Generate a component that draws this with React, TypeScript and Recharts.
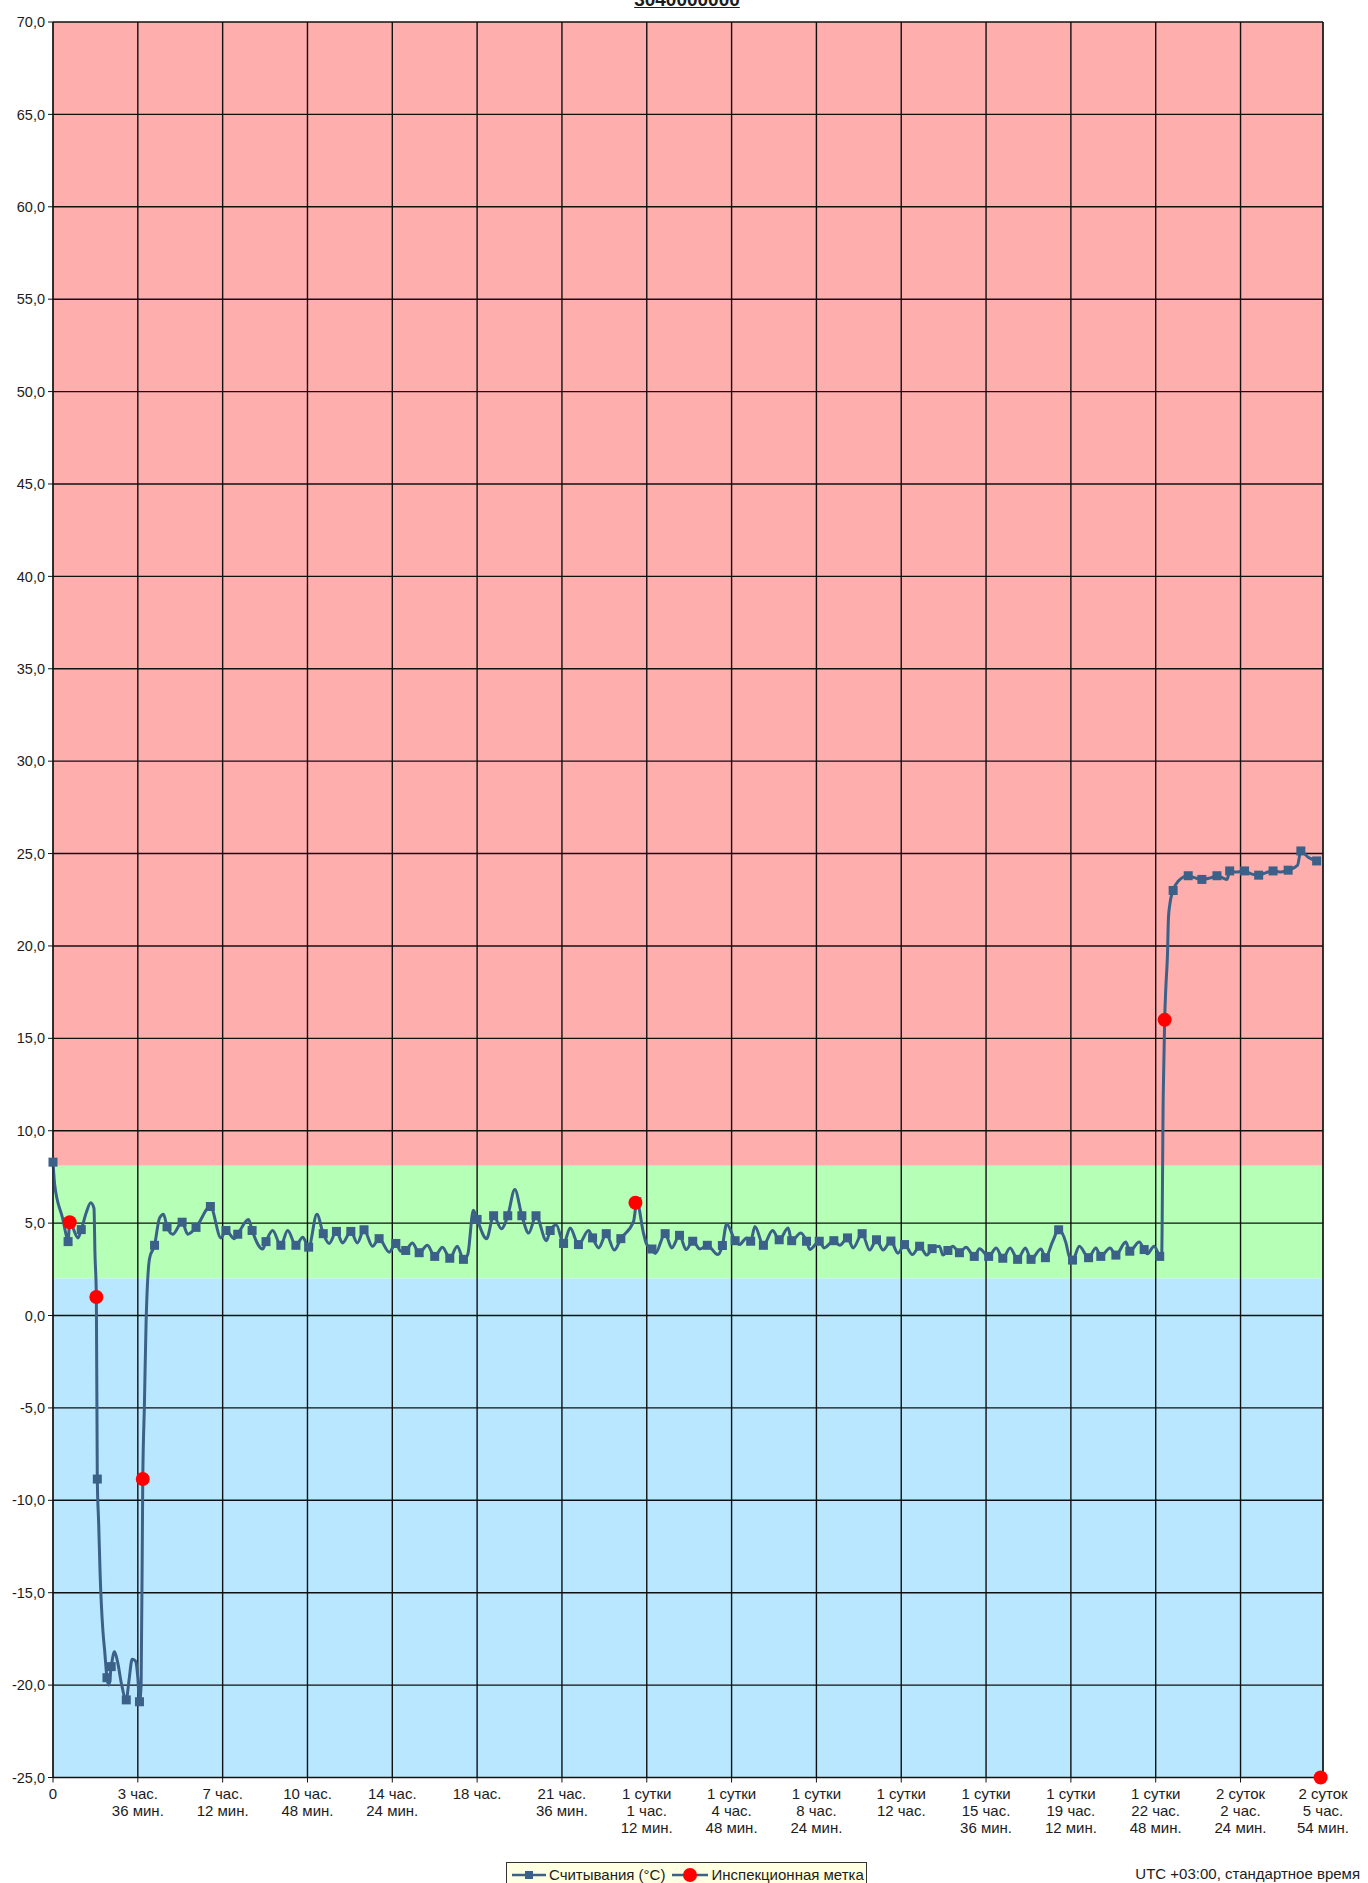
import React from 'react';
import { ComposedChart, Line, Scatter, XAxis, YAxis, CartesianGrid, ReferenceArea } from 'recharts';

// logger readings: time since start (hours), temperature (°C), 1 = drawn with a square marker
const readingHours = [
  0, 0.07, 0.42, 0.55, 0.64, 0.71, 1.06, 1.2, 1.42, 1.6, 1.74, 1.78, 1.84, 1.88, 1.94, 2.0, 2.12, 2.19,
  2.29, 2.37, 2.47, 2.61, 2.75, 2.9, 3.11, 3.22, 3.36, 3.5, 3.6, 3.67, 3.74, 3.81, 3.88, 3.95, 4.1, 4.31,
  4.52, 4.69, 4.84, 5.08, 5.48, 5.72, 6.07, 6.68, 7.13, 7.34, 7.7, 7.84, 8.3, 8.45, 8.9, 9.04, 9.32, 9.67,
  9.96, 10.31, 10.6, 10.85, 11.2, 11.47, 11.72, 12.03, 12.29, 12.64, 12.92, 13.2, 13.56, 13.84, 14.27,
  14.55, 14.76, 14.97, 15.25, 15.54, 15.89, 16.2, 16.53, 16.84, 17.16, 17.42, 17.6, 17.84, 18.0, 18.4,
  18.7, 19.03, 19.3, 19.6, 19.9, 20.19, 20.5, 20.94, 21.1, 21.36, 21.67, 21.95, 22.3, 22.73, 22.9, 23.16,
  23.48, 23.82, 24.1, 24.64, 24.78, 25.06, 25.2, 25.42, 25.56, 25.98, 26.26, 26.59, 26.87, 27.15, 27.46,
  27.77, 28.21, 28.41, 28.59, 28.95, 29.13, 29.44, 29.61, 29.79, 30.15, 30.54, 30.82, 31.2, 31.35, 31.74,
  31.98, 32.12, 32.52, 32.73, 33.14, 33.39, 33.72, 33.96, 34.34, 34.66, 34.95, 35.23, 35.56, 35.86, 36.14,
  36.47, 36.78, 37.09, 37.31, 37.62, 37.77, 37.98, 38.19, 38.47, 38.75, 39.1, 39.32, 39.71, 40.03, 40.31,
  40.62, 40.94, 41.27, 41.51, 41.93, 42.12, 42.43, 42.68, 42.99, 43.13, 43.27, 43.56, 43.95, 44.26, 44.47,
  44.86, 45.11, 45.53, 45.7, 46.1, 46.31, 46.45, 46.73, 46.97, 47.05, 47.12, 47.18, 47.23, 47.3, 47.34,
  47.4, 47.54, 47.75, 48.18, 48.44, 48.76, 49.08, 49.4, 49.83, 49.94, 50.21, 50.57, 50.85, 51.17, 51.49,
  51.78, 52.13, 52.42, 52.82, 52.96, 53.27, 53.63,
];
const readingTemps = [
  8.3, 7.1, 5.2, 4.4, 4.0, 5.05, 4.2, 4.65, 5.6, 6.1, 5.8, 3.4, 1.0, -8.85, -11.3, -14.0, -17.1, -18.1,
  -19.6, -20.0, -19.0, -18.2, -18.8, -19.9, -20.8, -19.8, -18.6, -18.7, -19.6, -20.9, -20.0, -8.85, -4.8, -0.4, 3.1, 3.8,
  5.27, 5.48, 4.8, 4.4, 5.05, 4.4, 4.77, 5.9, 4.2, 4.6, 4.16, 4.4, 5.2, 4.6, 3.6, 4.0, 4.6, 3.8,
  4.6, 3.8, 4.23, 3.7, 5.48, 4.43, 3.9, 4.55, 3.93, 4.55, 3.93, 4.64, 3.75, 4.16, 3.43,
  3.9, 3.48, 3.52, 3.93, 3.4, 3.8, 3.2, 3.7, 3.1, 3.75, 3.04, 3.3, 5.7, 5.2, 4.16,
  5.4, 4.7, 5.4, 6.82, 5.4, 4.46, 5.4, 4.05, 4.6, 4.9, 3.9, 4.73, 3.84, 4.6, 4.2, 3.66,
  4.43, 3.54, 4.16, 5.1, 6.16, 4.46, 3.84, 3.6, 3.36, 4.43, 3.66, 4.34, 3.57, 4.02, 3.6,
  3.8, 3.3, 3.79, 4.95, 4.05, 3.84, 4.2, 4.02, 4.82, 3.8, 4.6, 4.1, 4.73, 4.05, 4.46,
  4.02, 3.57, 4.02, 3.66, 4.05, 3.8, 4.2, 3.66, 4.43, 3.54, 4.1, 3.54, 4.03, 3.37, 3.84,
  3.3, 3.75, 3.27, 3.62, 3.75, 3.27, 3.52, 3.75, 3.4, 3.7, 3.2, 3.62, 3.2, 3.66, 3.1,
  3.66, 3.04, 3.66, 3.04, 3.6, 3.13, 4.02, 4.64, 3.93, 3.2, 3.0, 3.75, 3.13, 3.66, 3.2,
  3.66, 3.27, 3.98, 3.48, 3.98, 3.57, 3.34, 3.75, 3.2, 3.1, 12.0, 16.0, 17.75, 19.56, 21.5,
  22.26, 23.0, 23.5, 23.8, 23.7, 23.6, 23.67, 23.8, 23.6, 24.06, 24.0, 24.06, 23.9, 23.83, 23.97,
  24.06, 24.0, 24.1, 24.37, 25.14, 24.8, 24.6,
];
const readingMarked = [
  1, 0, 0, 0, 1, 0, 0, 1, 0, 0, 0, 0, 0, 1, 0, 0, 0, 0,
  1, 0, 1, 0, 0, 0, 1, 0, 0, 0, 0, 1, 0, 0, 0, 0, 0, 1,
  0, 0, 1, 0, 1, 0, 1, 1, 0, 1, 0, 1, 0, 1, 0, 1, 0, 1,
  0, 1, 0, 1, 0, 1, 0, 1, 0, 1, 0, 1, 0, 1, 0,
  1, 0, 1, 0, 1, 0, 1, 0, 1, 0, 1, 0, 0, 1, 0,
  1, 0, 1, 0, 1, 0, 1, 0, 1, 0, 1, 0, 1, 0, 1, 0,
  1, 0, 1, 0, 1, 0, 0, 1, 0, 1, 0, 1, 0, 1, 0,
  1, 0, 1, 0, 1, 0, 0, 1, 0, 1, 0, 1, 0, 1, 0,
  1, 0, 1, 0, 1, 0, 1, 0, 1, 0, 1, 0, 1, 0, 1,
  0, 1, 0, 1, 0, 0, 1, 0, 1, 0, 1, 0, 1, 0, 1,
  0, 1, 0, 1, 0, 1, 0, 1, 0, 0, 1, 0, 1, 0, 1,
  0, 1, 0, 1, 0, 1, 0, 0, 1, 0, 0, 0, 0, 0, 0,
  0, 1, 0, 1, 0, 1, 0, 1, 0, 1, 0, 1, 0, 1, 0,
  1, 0, 1, 0, 1, 0, 1,
];

// inspection marks
const inspectionHours = [0.71, 1.84, 3.81, 24.72, 47.18, 53.8];
const inspectionTemps = [5.05, 1.0, -8.85, 6.1, 16.0, -25.0];

// acceptable range (°C)
const lowLimit = 2.0;
const highLimit = 8.1;

const xTicks = [0, 3.6, 7.2, 10.8, 14.4, 18, 21.6, 25.2, 28.8, 32.4, 36, 39.6, 43.2, 46.8, 50.4, 53.9];
const xTickLabels = [
  ['0'],
  ['3 час.', '36 мин.'],
  ['7 час.', '12 мин.'],
  ['10 час.', '48 мин.'],
  ['14 час.', '24 мин.'],
  ['18 час.'],
  ['21 час.', '36 мин.'],
  ['1 сутки', '1 час.', '12 мин.'],
  ['1 сутки', '4 час.', '48 мин.'],
  ['1 сутки', '8 час.', '24 мин.'],
  ['1 сутки', '12 час.'],
  ['1 сутки', '15 час.', '36 мин.'],
  ['1 сутки', '19 час.', '12 мин.'],
  ['1 сутки', '22 час.', '48 мин.'],
  ['2 суток', '2 час.', '24 мин.'],
  ['2 суток', '5 час.', '54 мин.'],
];
const yTicks = [-25, -20, -15, -10, -5, 0, 5, 10, 15, 20, 25, 30, 35, 40, 45, 50, 55, 60, 65, 70];

const readings = readingHours.map((h, i) => ({ hours: h, temp: readingTemps[i], marked: readingMarked[i] === 1 }));
const inspections = inspectionHours.map((h, i) => ({ hours: h, temp: inspectionTemps[i] }));

const FONT = '"Liberation Sans", Arial, sans-serif';
const TEXT = '#1c1c1c';
const LINE = '#3b6189';

const fmtTemp = (v: number) => v.toFixed(1).replace('.', ',');

function TimeTick({ x, y, payload }: any) {
  const lines = xTickLabels[payload.index] ?? [String(payload.value)];
  return (
    <text x={x} y={y + 14} textAnchor="middle" fill={TEXT} fontSize={15} fontFamily={FONT}>
      {lines.map((l, i) => (
        <tspan key={i} x={x} dy={i === 0 ? 0 : 17.4}>
          {l}
        </tspan>
      ))}
    </text>
  );
}

const renderSquare = (props: any) => {
  const { cx, cy, payload, index } = props;
  if (!payload || !payload.marked) return <g key={`sq${index}`} />;
  return <rect key={`sq${index}`} x={cx - 4.5} y={cy - 4.5} width={9} height={9} fill={LINE} />;
};

const renderCircle = (props: any) => <circle cx={props.cx} cy={props.cy} r={7} fill="#ff0000" />;

export default function App() {
  return (
    <div style={{ position: 'relative', width: 1368, height: 1883, overflow: 'hidden', fontFamily: FONT, background: '#fff' }}>
      <style>{'body{margin:0}'}</style>
      <div
        style={{
          position: 'absolute',
          top: -10,
          left: 0,
          width: 1374,
          textAlign: 'center',
          fontSize: 19,
          fontWeight: 'bold',
          textDecoration: 'underline',
          lineHeight: '19px',
          color: TEXT,
        }}
      >
        3040000000
      </div>
      <ComposedChart width={1368} height={1840} margin={{ top: 22, right: 0, bottom: 0, left: 0 }}>
        <ReferenceArea yAxisId="left" y1={highLimit} y2={70} fill="#ffaeae" fillOpacity={1} stroke="none" zIndex={-200} />
        <ReferenceArea yAxisId="left" y1={lowLimit} y2={highLimit} fill="#b6ffb6" fillOpacity={1} stroke="none" zIndex={-200} />
        <ReferenceArea yAxisId="left" y1={-25} y2={lowLimit} fill="#b9e7ff" fillOpacity={1} stroke="none" zIndex={-200} />
        <CartesianGrid yAxisId="left" stroke="#111" strokeWidth={1.4} zIndex={-100} />
        <XAxis
          type="number"
          dataKey="hours"
          domain={[0, 53.9]}
          ticks={xTicks}
          interval={0}
          tick={<TimeTick />}
          tickSize={5}
          height={62.5}
          stroke="#111"
        />
        <YAxis
          yAxisId="left"
          domain={[-25, 70]}
          ticks={yTicks}
          interval={0}
          width={53}
          tickSize={5}
          tickMargin={3}
          tickFormatter={fmtTemp}
          tick={{ fill: TEXT, fontSize: 14.5, fontFamily: FONT }}
          stroke="#111"
        />
        <YAxis
          yAxisId="right"
          orientation="right"
          domain={[-25, 70]}
          ticks={yTicks}
          interval={0}
          width={45}
          tickSize={5}
          tickMargin={5}
          tickFormatter={fmtTemp}
          tick={{ fill: TEXT, fontSize: 14.5, fontFamily: FONT, textAnchor: 'start' }}
          stroke="#111"
        />
        <Line
          yAxisId="left"
          data={readings}
          dataKey="temp"
          type="monotone"
          stroke={LINE}
          strokeWidth={3}
          dot={renderSquare}
          activeDot={false}
          isAnimationActive={false}
        />
        <Scatter yAxisId="left" data={inspections} dataKey="temp" fill="#ff0000" shape={renderCircle} isAnimationActive={false} />
      </ComposedChart>
      <div
        style={{
          position: 'absolute',
          left: 506,
          top: 1862,
          width: 361,
          height: 30,
          boxSizing: 'border-box',
          border: '1px solid #333',
          background: '#ffffe1',
          display: 'flex',
          alignItems: 'flex-start',
          paddingTop: 3,
          fontSize: 15,
          color: TEXT,
          whiteSpace: 'nowrap',
        }}
      >
        <svg width={40} height={18} style={{ marginLeft: 2, flex: 'none' }}>
          <line x1={3} y1={9} x2={37} y2={9} stroke={LINE} strokeWidth={2.5} />
          <rect x={16} y={5} width={8} height={8} fill={LINE} />
        </svg>
        <span style={{ lineHeight: '18px' }}>Считывания (°C)</span>
        <svg width={42} height={18} style={{ marginLeft: 4, flex: 'none' }}>
          <line x1={3} y1={9} x2={39} y2={9} stroke={LINE} strokeWidth={2.5} />
          <circle cx={21} cy={9} r={7} fill="#ff0000" />
        </svg>
        <span style={{ lineHeight: '18px' }}>Инспекционная метка</span>
      </div>
      <div style={{ position: 'absolute', right: 8, top: 1865, fontSize: 15, lineHeight: '18px', color: TEXT, whiteSpace: 'nowrap' }}>
        UTC +03:00, стандартное время
      </div>
    </div>
  );
}
